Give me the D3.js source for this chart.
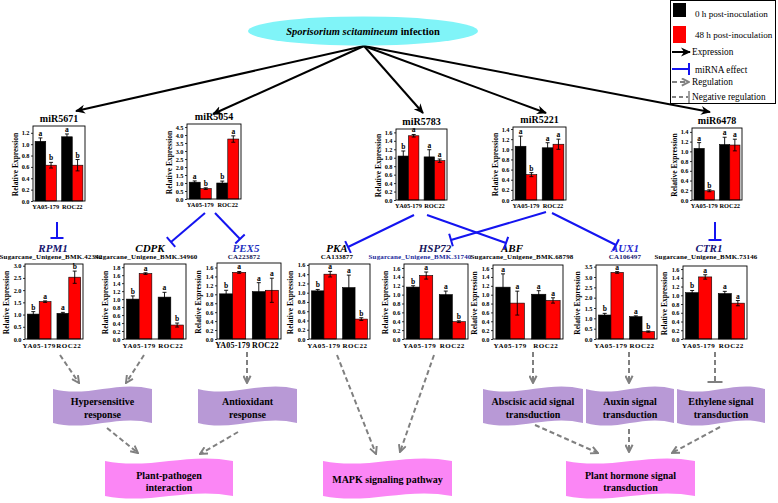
<!DOCTYPE html>
<html><head><meta charset="utf-8">
<script src="https://cdn.jsdelivr.net/npm/d3@7"></script>
<style>body{margin:0;background:#fff}svg{display:block}text{font-family:"Liberation Serif","Times New Roman",serif}</style>
</head><body><svg id="c" width="778" height="503"></svg>
<script>
// ---------------- data ----------------
const groups = ["YA05-179", "ROC22"];
const seriesNames = ["0 h post-inoculation", "48 h post-inoculation"];

const mirNames = ["miR5671", "miR5054", "miR5783", "miR5221", "miR6478"];
const mir0h    = [[1.05, 1.13], [1.05, 1.00], [1.04, 1.02], [1.06, 1.03], [1.06, 1.14]];
const mir48h   = [[0.63, 0.63], [0.65, 3.75], [1.52, 0.93], [0.50, 1.10], [0.19, 1.13]];
const mir0hErr = [[0.06, 0.05], [0.08, 0.12], [0.12, 0.17], [0.20, 0.10], [0.12, 0.15]];
const mir48hErr= [[0.05, 0.10], [0.05, 0.20], [0.03, 0.04], [0.04, 0.10], [0.02, 0.12]];
const mir0hSig = [["a", "a"], ["a", "b"], ["b", "a"], ["a", "a"], ["a", "a"]];
const mir48hSig= [["b", "b"], ["b", "a"], ["a", "a"], ["b", "a"], ["b", "a"]];
const mirTickStep = [0.2, 0.5, 0.2, 0.2, 0.2];
const mirTickMax  = [1.2, 4.5, 1.6, 1.4, 1.4];

const geneNames = ["RPM1", "CDPK", "PEX5", "PKA", "HSP72", "ABF", "AUX1", "CTR1"];
const geneIds = ["Sugarcane_Unigene_BMK.42342", "Sugarcane_Unigene_BMK.34960", "CA223872", "CA133877",
                 "Sugarcane_Unigene_BMK.31740", "Sugarcane_Unigene_BMK.68798", "CA106497", "Sugarcane_Unigene_BMK.73146"];
const gene0h    = [[1.02, 1.05], [1.00, 1.05], [1.01, 1.06], [1.04, 1.11], [1.17, 1.00], [1.17, 1.01], [1.16, 1.08], [1.06, 1.04]];
const gene48h   = [[1.53, 2.53], [1.64, 0.35], [1.49, 1.09], [1.40, 0.43], [1.43, 0.39], [0.81, 0.87], [3.22, 0.36], [1.42, 0.82]];
const gene0hErr = [[0.10, 0.04], [0.08, 0.12], [0.08, 0.20], [0.03, 0.27], [0.03, 0.08], [0.30, 0.08], [0.08, 0.04], [0.05, 0.05]];
const gene48hErr= [[0.03, 0.25], [0.02, 0.05], [0.02, 0.27], [0.06, 0.03], [0.08, 0.02], [0.27, 0.06], [0.04, 0.03], [0.05, 0.06]];
const gene0hSig = [["b", "a"], ["b", "a"], ["b", "a"], ["b", "a"], ["b", "a"], ["a", "a"], ["b", "a"], ["b", "a"]];
const gene48hSig= [["a", "b"], ["a", "b"], ["a", "a"], ["a", "b"], ["a", "b"], ["a", "a"], ["a", "b"], ["a", "a"]];
const geneTickStep = [0.5, 0.2, 0.2, 0.2, 0.2, 0.2, 0.5, 0.2];
const geneTickMax  = [3.0, 1.8, 1.6, 1.6, 1.6, 1.6, 3.5, 1.6];

const processNames = [["Hypersensitive", "response"], ["Antioxidant", "response"],
                      ["Abscisic acid signal", "transduction"], ["Auxin signal", "transduction"], ["Ethylene signal", "transduction"]];
const pathwayNames = [["Plant-pathogen", "interaction"], ["MAPK signaling pathway"], ["Plant hormone signal", "transduction"]];
const legendNames = ["Expression", "miRNA effect", "Regulation", "Negative regulation"];

// ---------------- layout / style ----------------
const barColors = ["#000000", "#ff0000"];
const BLUE = "#1414f0", GREY = "#808080";
const topLayout = [
  {x0: 33, x1: 85, y0: 126, y1: 201, max: 1.32},
  {x0: 187, x1: 241, y0: 124, y1: 199, max: 4.69},
  {x0: 396, x1: 447, y0: 129, y1: 200, max: 1.68},
  {x0: 513, x1: 566, y0: 127, y1: 200, max: 1.44},
  {x0: 692, x1: 742, y0: 128, y1: 200, max: 1.48}
];
const botLayout = [
  {x0: 25, x1: 83, y0: 264, y1: 339, max: 3.07, tx: 53, ix: 51, tc: "#14146e", ic: "#000"},
  {x0: 124, x1: 186, y0: 264, y1: 339, max: 1.88, tx: 150, ix: 146, tc: "#000", ic: "#000"},
  {x0: 217, x1: 281, y0: 263, y1: 339, max: 1.70, tx: 246, ix: 244, tc: "#2030c0", ic: "#141450", big: true},
  {x0: 309, x1: 370, y0: 264, y1: 339, max: 1.62, tx: 337, ix: 337, tc: "#000", ic: "#000"},
  {x0: 404, x1: 468, y0: 264, y1: 339, max: 1.69, tx: 435, ix: 420, tc: "#14145a", ic: "#1a2a9a"},
  {x0: 493, x1: 563, y0: 265, y1: 339, max: 1.67, tx: 512, ix: 522, tc: "#000", ic: "#000"},
  {x0: 596, x1: 657, y0: 265, y1: 339, max: 3.58, tx: 625, ix: 625, tc: "#2a2ad0", ic: "#14146e"},
  {x0: 683, x1: 747, y0: 266, y1: 339, max: 1.67, tx: 709, ix: 706, tc: "#14146e", ic: "#000"}
];

const svg = d3.select("#c");
const defs = svg.append("defs");
defs.append("marker").attr("id", "ab").attr("viewBox", "0 0 10 10").attr("refX", 9).attr("refY", 5)
  .attr("markerWidth", 10).attr("markerHeight", 10).attr("markerUnits", "userSpaceOnUse").attr("orient", "auto")
  .append("path").attr("d", "M0,0.5 L10,5 L0,9.5 L3,5 Z").attr("fill", "#000");
defs.append("marker").attr("id", "ag").attr("viewBox", "0 0 10 10").attr("refX", 9).attr("refY", 5)
  .attr("markerWidth", 9).attr("markerHeight", 9).attr("markerUnits", "userSpaceOnUse").attr("orient", "auto")
  .append("path").attr("d", "M1,1 L9,5 L1,9").attr("fill", "none").attr("stroke", GREY)
  .attr("stroke-width", 2.2).attr("stroke-dasharray", "none");

// ---------------- chart drawing ----------------
function drawChart(L, v0, v48, e0, e48, s0, s48, step, tmax, opt) {
  const g = svg.append("g");
  const x = d3.scaleBand().domain(groups).range([L.x0, L.x1]).paddingInner(0.2).paddingOuter(0.08);
  const xi = d3.scaleBand().domain([0, 1]).range([0, x.bandwidth()]);
  const y = d3.scaleLinear().domain([0, L.max]).range([L.y1, L.y0]);
  const vals = [v0, v48], errs = [e0, e48], sigs = [s0, s48];
  groups.forEach((gr, gi) => {
    [0, 1].forEach(si => {
      const v = vals[si][gi], e = errs[si][gi];
      const bx = x(gr) + xi(si), bw = xi.bandwidth(), cx = bx + bw / 2;
      g.append("rect").attr("x", bx).attr("y", y(v)).attr("width", bw).attr("height", y(0) - y(v))
        .attr("fill", barColors[si]).attr("stroke", "#000").attr("stroke-width", 0.6);
      g.append("line").attr("x1", cx).attr("x2", cx).attr("y1", y(v - e)).attr("y2", y(v + e))
        .attr("stroke", "#000").attr("stroke-width", 0.9);
      [v + e, v - e].forEach(yy => g.append("line").attr("x1", cx - 2).attr("x2", cx + 2)
        .attr("y1", y(yy)).attr("y2", y(yy)).attr("stroke", "#000").attr("stroke-width", 0.9));
      g.append("text").attr("x", cx).attr("y", y(v + e) - 2).attr("text-anchor", "middle")
        .attr("font-size", 7.5).attr("font-weight", "bold").text(sigs[si][gi]);
    });
    g.append("text").attr("x", x(gr) + x.bandwidth() / 2).attr("y", L.y1 + (opt.top ? 7.5 : 9))
      .attr("text-anchor", "middle").attr("font-size", opt.big ? 8 : (opt.top ? 6.4 : 7)).attr("font-weight", "bold")
      .attr("letter-spacing", opt.big ? 0.2 : (opt.top ? 0 : 0.5)).text(gr);
  });
  g.append("rect").attr("x", L.x0).attr("y", L.y0).attr("width", L.x1 - L.x0).attr("height", L.y1 - L.y0)
    .attr("fill", "none").attr("stroke", "#000").attr("stroke-width", 0.9);
  const ax = g.append("g").attr("transform", `translate(${L.x0},0)`)
    .call(d3.axisLeft(y).tickValues(d3.range(0, tmax + 1e-6, step)).tickSize(2).tickPadding(1.5).tickFormat(d3.format(".1f")));
  ax.select(".domain").remove();
  ax.selectAll("text").attr("font-size", 6.3).attr("font-weight", "bold").attr("font-family", "Liberation Serif");
  ax.selectAll("line").attr("stroke-width", 0.8);
  g.append("text").attr("transform", `translate(${L.x0 - (opt.top ? 18 : 19)},${(L.y0 + L.y1) / 2 + 1}) rotate(-90)`)
    .attr("text-anchor", "middle").attr("dy", "0.35em").attr("font-size", 7.5).attr("font-weight", "bold")
    .text("Relative Expression");
  return g;
}

mirNames.forEach((n, i) => {
  const L = topLayout[i];
  drawChart(L, mir0h[i], mir48h[i], mir0hErr[i], mir48hErr[i], mir0hSig[i], mir48hSig[i], mirTickStep[i], mirTickMax[i], {top: true});
  svg.append("text").attr("x", (L.x0 + L.x1) / 2).attr("y", L.y0 - 4).attr("text-anchor", "middle")
    .attr("font-size", 10).attr("font-weight", "bold").text(n);
});
geneNames.forEach((n, i) => {
  const L = botLayout[i];
  drawChart(L, gene0h[i], gene48h[i], gene0hErr[i], gene48hErr[i], gene0hSig[i], gene48hSig[i], geneTickStep[i], geneTickMax[i], {top: false, big: L.big});
  svg.append("text").attr("x", L.tx).attr("y", 252).attr("text-anchor", "middle").attr("font-size", 11)
    .attr("font-weight", "bold").attr("font-style", "italic").attr("fill", L.tc).text(n);
  svg.append("text").attr("x", L.ix).attr("y", 259).attr("text-anchor", "middle").attr("font-size", 7)
    .attr("font-weight", "bold").attr("fill", L.ic).attr("letter-spacing", 0.15).text(geneIds[i]);
});

// ---------------- infection ellipse & expression arrows ----------------
const apex = [364, 46];
const mirTips = [[76, 111], [213, 114], [423, 113], [546, 113], [710, 112]];
mirTips.forEach(t => {
  svg.append("line").attr("x1", apex[0]).attr("y1", apex[1]).attr("x2", t[0]).attr("y2", t[1])
    .attr("stroke", "#000").attr("stroke-width", 2).attr("marker-end", "url(#ab)");
});
svg.append("ellipse").attr("cx", 363).attr("cy", 31).attr("rx", 115).attr("ry", 14.5).attr("fill", "#80f4f8");
const et = svg.append("text").attr("x", 363).attr("y", 35).attr("text-anchor", "middle").attr("font-size", 10.5).attr("font-weight", "bold");
et.append("tspan").attr("font-style", "italic").text("Sporisorium scitamineum");
et.append("tspan").text(" infection");

// ---------------- miRNA effect (blue T-lines) ----------------
function tline(x1, y1, x2, y2, color, width, len, dash) {
  svg.append("line").attr("x1", x1).attr("y1", y1).attr("x2", x2).attr("y2", y2)
    .attr("stroke", color).attr("stroke-width", width).attr("stroke-dasharray", dash || null);
  const dx = x2 - x1, dy = y2 - y1, d = Math.hypot(dx, dy), px = -dy / d * len / 2, py = dx / d * len / 2;
  svg.append("line").attr("x1", x2 - px).attr("y1", y2 - py).attr("x2", x2 + px).attr("y2", y2 + py)
    .attr("stroke", color).attr("stroke-width", width);
}
const blueLinks = [
  [57, 222, 57, 238], [205, 213, 171, 242], [215, 213, 240, 239], [414, 215, 348, 247],
  [427, 215, 506, 243], [546, 212, 451, 240], [552, 213, 616, 245], [715, 222, 715, 240]
];
blueLinks.forEach(b => tline(b[0], b[1], b[2], b[3], BLUE, 2, 13));

// ---------------- regulation (grey dashed) ----------------
const greyArrows = [
  [60, 355, 79, 383], [144, 355, 126, 383], [247, 352, 247, 383], [107, 428, 138, 453], [238, 432, 200, 454],
  [337, 355, 376, 454], [434, 355, 400, 452], [533, 352, 533, 383], [629, 352, 629, 383],
  [535, 425, 598, 453], [629, 429, 629, 452], [720, 427, 672, 453]
];
greyArrows.forEach(a => {
  svg.append("line").attr("x1", a[0]).attr("y1", a[1]).attr("x2", a[2]).attr("y2", a[3])
    .attr("stroke", GREY).attr("stroke-width", 2).attr("stroke-dasharray", "5,3").attr("marker-end", "url(#ag)");
});
tline(715, 352, 715, 382, GREY, 2, 15, "5,3");

// ---------------- process boxes ----------------
function wave(x, y, w, h, a) {
  return `M${x},${y} C${x + w * 0.35},${y + 2 * a} ${x + w * 0.65},${y - 2 * a} ${x + w},${y} L${x + w},${y + h} ` +
         `C${x + w * 0.65},${y + h - 2 * a} ${x + w * 0.35},${y + h + 2 * a} ${x},${y + h} Z`;
}
const procBoxes = [[53, 99], [198, 99], [483, 100], [586, 88], [677, 88]];
processNames.forEach((lines, i) => {
  const [bx, bw] = procBoxes[i];
  svg.append("path").attr("d", wave(bx, 389, bw, 34, 4.5)).attr("fill", "#b899d6");
  lines.forEach((t, j) => svg.append("text").attr("x", bx + bw / 2).attr("y", 405 + j * 12.5)
    .attr("text-anchor", "middle").attr("font-size", 10).attr("font-weight", "bold").text(t));
});
const pathBoxes = [[105, 128], [323, 129], [566, 129]];
pathwayNames.forEach((lines, i) => {
  const [bx, bw] = pathBoxes[i];
  svg.append("path").attr("d", wave(bx, 461, bw, 35, 4.5)).attr("fill", "#fb86f5");
  const y0 = lines.length === 1 ? 483 : 478.5;
  lines.forEach((t, j) => svg.append("text").attr("x", bx + bw / 2).attr("y", y0 + j * 12.5)
    .attr("text-anchor", "middle").attr("font-size", 10).attr("font-weight", "bold").text(t));
});

// ---------------- legend ----------------
const lg = svg.append("g");
lg.append("rect").attr("x", 670.5).attr("y", 0.5).attr("width", 105).attr("height", 103)
  .attr("fill", "#fff").attr("stroke", "#000").attr("stroke-width", 1);
lg.append("rect").attr("x", 673).attr("y", 3).attr("width", 13).attr("height", 14).attr("fill", barColors[0]);
lg.append("rect").attr("x", 673).attr("y", 26).attr("width", 13).attr("height", 17).attr("fill", barColors[1]);
lg.append("text").attr("x", 695).attr("y", 16.5).attr("font-size", 9.1).text(seriesNames[0]);
lg.append("text").attr("x", 695).attr("y", 38).attr("font-size", 9.1).text(seriesNames[1]);
lg.append("line").attr("x1", 672).attr("y1", 52).attr("x2", 690).attr("y2", 52).attr("stroke", "#000")
  .attr("stroke-width", 2).attr("marker-end", "url(#ab)");
svg.append("line").attr("x1", 672).attr("y1", 69).attr("x2", 689).attr("y2", 69).attr("stroke", BLUE).attr("stroke-width", 2);
svg.append("line").attr("x1", 689).attr("y1", 63).attr("x2", 689).attr("y2", 75).attr("stroke", BLUE).attr("stroke-width", 2);
svg.append("line").attr("x1", 672).attr("y1", 82).attr("x2", 689).attr("y2", 82).attr("stroke", GREY)
  .attr("stroke-width", 2).attr("stroke-dasharray", "5,3").attr("marker-end", "url(#ag)");
svg.append("line").attr("x1", 672).attr("y1", 97).attr("x2", 688).attr("y2", 97).attr("stroke", GREY)
  .attr("stroke-width", 2).attr("stroke-dasharray", "4,3");
svg.append("line").attr("x1", 689).attr("y1", 91).attr("x2", 689).attr("y2", 103).attr("stroke", GREY).attr("stroke-width", 1.5);
[55, 72.5, 85, 100].forEach((yy, i) => svg.append("text").attr("x", i === 1 ? 695 : 692).attr("y", yy)
  .attr("font-size", 9.3).text(legendNames[i]));
</script></body></html>
